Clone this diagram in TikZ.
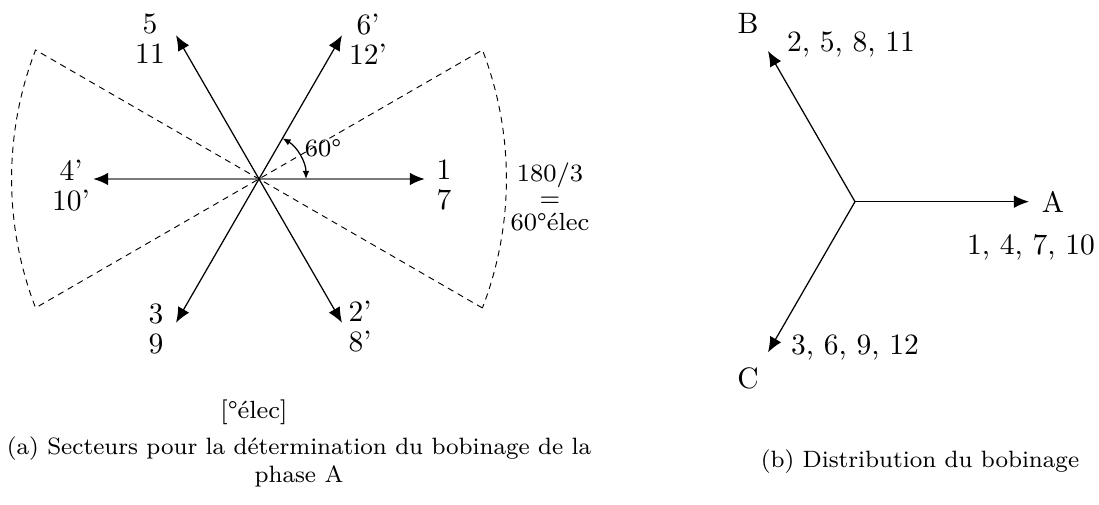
\documentclass[tikz,border=0pt]{standalone}
\usetikzlibrary{arrows.meta, calc}
\definecolor{axisGray}{HTML}{7A7A7A}
\tikzset{
  vec/.style={-{Latex[length=4.9pt, width=4.1pt, color=black]}, line width=0.4pt},
  axis/.style={vec, draw=axisGray, line width=0.7pt},
  sector/.style={dash pattern=on 2pt off 1.6pt, line width=0.3pt},
  lbl/.style={align=center, font=\fontsize{9.5}{9.65}\selectfont, inner sep=0pt},
  note/.style={align=center, font=\fontsize{8}{8}\selectfont, inner sep=0pt},
  captext/.style={align=center, font=\fontsize{7.6}{9}\selectfont, inner sep=0pt}
}

\begin{document}
\begin{tikzpicture}[x=0.0113cm, y=0.0113cm]
  \useasboundingbox (0,0) rectangle (1099,505);
  % (a) secteurs de la phase A
  \coordinate (O) at (259,326);
  \foreach \ang/\nm in {0/a1, 60/a6, 120/a5, 180/a4, 240/a3, 300/a2}
    \coordinate (\nm) at ($(O)+(\ang:166)$);
  \foreach \ang/\nm in {30/s1, 150/s2, 210/s3, 330/s4}
    \coordinate (\nm) at ($(O)+(\ang:258)$);
  \draw[sector] (s4) -- (s2) arc[start angle=158.93, end angle=201.07, radius=358.7]
    -- (s1) arc[start angle=21.07, end angle=-21.07, radius=358.7] -- cycle;
  \draw[axis] (O) -- (a1);
  \draw[axis] (O) -- (a4);
  \foreach \nm in {a6, a5, a3, a2}
    \draw[vec] (O) -- (\nm);
  \fill (O) circle[radius=1.6];
  \draw[{Latex[length=2.6pt, width=2.2pt]}-{Latex[length=2.6pt, width=2.2pt]}, line width=0.4pt]
    ($(O)+(60:47)$) arc[start angle=60, end angle=0, radius=47];
  \node[note] (ang) at (323,357) {60\textdegree};
  \node[lbl] (n5) at (150,466) {5\\11};
  \node[lbl] (n6) at (368,466) {6'\\12'};
  \node[lbl] (n4) at (71,319) {4'\\10'};
  \node[lbl] (n1) at (444,320) {1\\7};
  \node[lbl] (n3) at (156,176) {3\\9};
  \node[lbl] (n2) at (360,178) {2'\\8'};
  \node[note] (pas) at (550,308) {180/3\\=\\60\textdegree élec};
  \node[note] (unit) at (254,93) {[\textdegree élec]};
  \node[captext] (capa) at (299,43) {(a) Secteurs pour la détermination du bobinage de la\\phase A};

  % (b) distribution
  \coordinate (P) at (855,303.3);
  \foreach \ang/\nm in {0/pA, 120/pB, 240/pC}
    \coordinate (\nm) at ($(P)+(\ang:174)$);
  \foreach \nm in {pA, pB, pC}
    \draw[vec] (P) -- (\nm);
  \node[lbl] (lA) at (1053,303.3) {A};
  \node[lbl] (kA) at (1031,258) {1, 4, 7, 10};
  \node[lbl] (lB) at (748,482) {B};
  \node[lbl] (kB) at (851,460) {2, 5, 8, 11};
  \node[lbl] (lC) at (748,127) {C};
  \node[lbl] (kC) at (855,157) {3, 6, 9, 12};
  \node[captext] (capb) at (920,43) {(b) Distribution du bobinage};
\end{tikzpicture}
\end{document}
